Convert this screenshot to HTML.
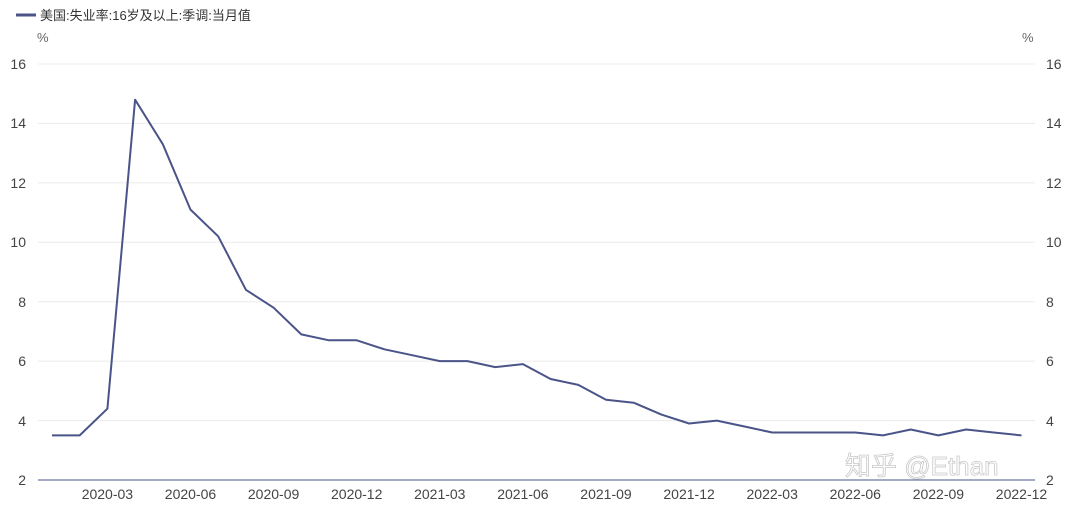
<!DOCTYPE html>
<html><head><meta charset="utf-8"><style>
body{margin:0;background:#fff;}
svg{display:block;font-family:"Liberation Sans","Noto Sans CJK SC",sans-serif;}
</style></head><body>
<svg width="1065" height="511" xmlns="http://www.w3.org/2000/svg">
<line x1="16" y1="15" x2="36" y2="15" stroke="#4a5488" stroke-width="3"/>
<text x="40" y="20" font-size="13" fill="#333">美国:失业率:16岁及以上:季调:当月值</text>
<text x="37" y="42" font-size="13" fill="#666">%</text>
<text x="1022" y="42" font-size="13" fill="#666">%</text>
<g stroke="#ececec" stroke-width="1">
<line x1="38" x2="1035" y1="64" y2="64"/><line x1="38" x2="1035" y1="123.4" y2="123.4"/>
<line x1="38" x2="1035" y1="182.9" y2="182.9"/><line x1="38" x2="1035" y1="242.3" y2="242.3"/>
<line x1="38" x2="1035" y1="301.7" y2="301.7"/><line x1="38" x2="1035" y1="361.1" y2="361.1"/>
<line x1="38" x2="1035" y1="420.6" y2="420.6"/>
</g>
<line x1="38" x2="1035" y1="480" y2="480" stroke="#4a5488" stroke-width="1"/>
<g font-size="14" fill="#444" text-anchor="end">
<text x="26" y="69">16</text><text x="26" y="128">14</text><text x="26" y="188">12</text><text x="26" y="247">10</text><text x="26" y="307">8</text><text x="26" y="366">6</text><text x="26" y="426">4</text><text x="26" y="485">2</text>
</g>
<g font-size="14" fill="#444" text-anchor="start">
<text x="1046" y="69">16</text><text x="1046" y="128">14</text><text x="1046" y="188">12</text><text x="1046" y="247">10</text><text x="1046" y="307">8</text><text x="1046" y="366">6</text><text x="1046" y="426">4</text><text x="1046" y="485">2</text>
</g>
<g font-size="14" fill="#444" text-anchor="middle">
<text x="107.4" y="499">2020-03</text><text x="190.5" y="499">2020-06</text><text x="273.6" y="499">2020-09</text><text x="356.7" y="499">2020-12</text>
<text x="439.8" y="499">2021-03</text><text x="522.9" y="499">2021-06</text><text x="606" y="499">2021-09</text><text x="689.1" y="499">2021-12</text>
<text x="772.2" y="499">2022-03</text><text x="855.3" y="499">2022-06</text><text x="938.4" y="499">2022-09</text><text x="1021.5" y="499">2022-12</text>
</g>
<polyline fill="none" stroke="#4a5488" stroke-width="2" stroke-linejoin="round" points="52,435.4 79.7,435.4 107.4,408.7 135.1,99.7 162.8,144.2 190.5,209.6 218.2,236.3 245.9,289.8 273.6,307.7 301.3,334.4 329,340.3 356.7,340.3 384.4,349.3 412.1,355.2 439.8,361.1 467.5,361.1 495.2,367.1 522.9,364.1 550.6,379 578.3,384.9 606,399.8 633.7,402.7 661.4,414.6 689.1,423.5 716.8,420.6 744.5,426.5 772.2,432.5 799.9,432.5 827.6,432.5 855.3,432.5 883,435.4 910.7,429.5 938.4,435.4 966.1,429.5 993.8,432.5 1021.5,435.4"/>
<text x="845" y="475" font-size="26" fill="#fff" stroke="#bbb" stroke-width="0.8" opacity="0.8">知乎 @Ethan</text>
</svg>
</body></html>
